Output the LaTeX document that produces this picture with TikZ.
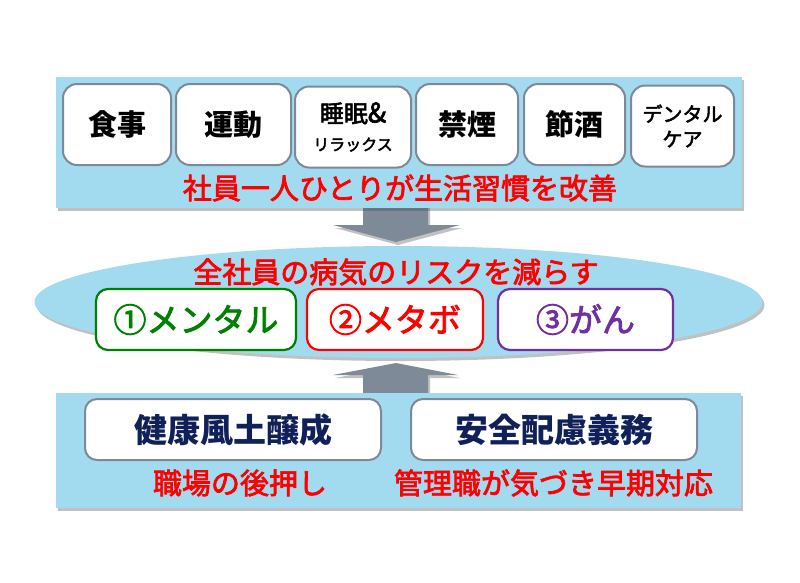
\documentclass[tikz,border=0pt]{standalone}
\usepackage{fontspec}
\setmainfont{Noto Sans CJK JP}
\newfontfamily\medfont[FakeBold=2.5]{Noto Sans CJK JP}
\usetikzlibrary{shadows,shapes.geometric}
\definecolor{panel}{RGB}{162,219,239}
\definecolor{boxline}{RGB}{125,137,152}
\definecolor{arrowgray}{RGB}{127,138,153}
\definecolor{navy}{RGB}{16,32,88}
\definecolor{mygreen}{RGB}{0,128,0}
\definecolor{mypurple}{RGB}{112,48,160}
\newcommand{\fsz}[1]{\fontsize{#1pt}{#1pt}\selectfont}
\tikzset{
  softshadow/.style={drop shadow={shadow xshift=2pt, shadow yshift=-3pt, opacity=0.35, fill=black!70}},
  panelbox/.style={rectangle, fill=panel, inner sep=0pt, softshadow},
  habit/.style={rectangle, rounded corners=14pt, draw=boxline, line width=2pt, fill=white,
    minimum height=81pt, inner sep=0pt, align=center, text=black},
  risk/.style={rectangle, rounded corners=12pt, line width=2.2pt, fill=white,
    minimum height=61pt, inner sep=0pt, align=center},
  base/.style={rectangle, rounded corners=12pt, draw=boxline, line width=2pt, fill=white,
    minimum height=61pt, inner sep=0pt, text=navy, font=\fsz{33}\bfseries},
  redtext/.style={text=red, inner sep=0pt},
  blockarrow/.style={fill=arrowgray, softshadow}
}
\begin{document}
\begin{tikzpicture}[x=1pt,y=-1pt]
\useasboundingbox (0,0) rectangle (800,582);

% block arrows
\fill[blockarrow] (363,200) -- (428,200) -- (428,225) -- (460,225) -- (396,242)
  -- (333,225) -- (363,225) -- cycle;
\fill[blockarrow] (396,363) -- (458,375) -- (428,375) -- (428,398) -- (363,398)
  -- (363,375) -- (333,375) -- cycle;

% top panel
\node[panelbox, minimum width=686pt, minimum height=131pt] (toppanel) at (399,142.5) {};
\node[habit, minimum width=108pt, font=\bfseries\fsz{29}] (h1) at (117,124.5) {食事};
\node[habit, minimum width=115pt, font=\bfseries\fsz{29}] (h2) at (233.5,124.5) {運動};
\node[habit, minimum width=116pt, font=\medfont\fsz{24}] (h3) at (353,127)
  {睡眠{\fsz{27}\&}\\[4pt]{\fsz{16}リラックス}};
\node[habit, minimum width=102pt, font=\bfseries\fsz{29}] (h4) at (467,124.5) {禁煙};
\node[habit, minimum width=101pt, font=\bfseries\fsz{29}] (h5) at (574.5,124.5) {節酒};
\node[habit, minimum width=103pt, font=\medfont\fsz{20}] (h6) at (682.5,126) {デンタル\\[5pt]ケア};
\node[redtext, font=\medfont\fsz{29}] (topmsg) at (400,188) {社員一人ひとりが生活習慣を改善};

% ellipse
\node[ellipse, fill=panel, minimum width=728pt, minimum height=112pt, inner sep=0pt, softshadow] (oval) at (398.5,302) {};
\node[redtext, font=\medfont\fsz{29}] (ovalmsg) at (396,272) {全社員の病気のリスクを減らす};
\node[risk, draw=mygreen, text=mygreen, minimum width=200pt, font=\medfont\fsz{33}] (r1) at (196,319.5) {①メンタル};
\node[risk, draw=red, text=red, minimum width=176pt, font=\medfont\fsz{33}] (r2) at (395,319.5) {②メタボ};
\node[risk, draw=mypurple, text=mypurple, minimum width=175pt, font=\medfont\fsz{33}] (r3) at (585.5,319.5) {③がん};

% bottom panel
\node[panelbox, minimum width=685pt, minimum height=115pt] (botpanel) at (398.5,450.5) {};
\node[base, minimum width=296pt] (b1) at (233,429.5) {健康風土醸成};
\node[base, minimum width=286pt] (b2) at (554,429.5) {安全配慮義務};
\node[redtext, font=\medfont\fsz{29}] (bm1) at (240,483) {職場の後押し};
\node[redtext, font=\medfont\fsz{29}] (bm2) at (553.5,483) {管理職が気づき早期対応};
\end{tikzpicture}
\end{document}
